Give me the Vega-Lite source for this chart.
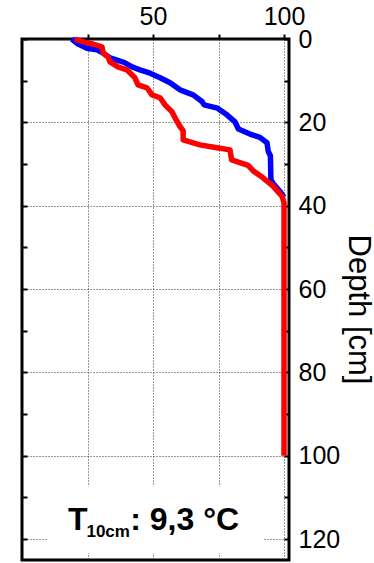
{
  "$schema": "https://vega.github.io/schema/vega-lite/v6.json",
  "width": 267,
  "height": 521,
  "autosize": {"type": "none"},
  "padding": {"left": 22, "top": 39, "right": 85, "bottom": 3},
  "background": "white",
  "config": {
    "view": {"stroke": "black", "strokeWidth": 3},
    "font": "Liberation Sans",
    "axis": {"domain": false, "labelFont": "Liberation Sans", "titleFont": "Liberation Sans", "labelColor": "black", "titleColor": "black", "tickColor": "black"}
  },
  "layer": [
    {
      "data": {"values": [
        {"series": "blue", "i": 0, "pct": 19.0, "depth": 0},
        {"series": "blue", "i": 1, "pct": 21.4, "depth": 1.2},
        {"series": "blue", "i": 2, "pct": 24.8, "depth": 2.2},
        {"series": "blue", "i": 3, "pct": 28.6, "depth": 2.6},
        {"series": "blue", "i": 4, "pct": 31, "depth": 3.4},
        {"series": "blue", "i": 5, "pct": 33.6, "depth": 4.5},
        {"series": "blue", "i": 6, "pct": 36, "depth": 5},
        {"series": "blue", "i": 7, "pct": 39.3, "depth": 5.7},
        {"series": "blue", "i": 8, "pct": 42, "depth": 6.7},
        {"series": "blue", "i": 9, "pct": 45, "depth": 7.4},
        {"series": "blue", "i": 10, "pct": 48.9, "depth": 8.2},
        {"series": "blue", "i": 11, "pct": 52.7, "depth": 9.3},
        {"series": "blue", "i": 12, "pct": 56.5, "depth": 10.5},
        {"series": "blue", "i": 13, "pct": 60.3, "depth": 12.2},
        {"series": "blue", "i": 14, "pct": 65.3, "depth": 13.4},
        {"series": "blue", "i": 15, "pct": 68.7, "depth": 15},
        {"series": "blue", "i": 16, "pct": 69.5, "depth": 15.8},
        {"series": "blue", "i": 17, "pct": 74.6, "depth": 16.6},
        {"series": "blue", "i": 18, "pct": 78.2, "depth": 18.2},
        {"series": "blue", "i": 19, "pct": 81.3, "depth": 19.9},
        {"series": "blue", "i": 20, "pct": 82.6, "depth": 21.6},
        {"series": "blue", "i": 21, "pct": 87, "depth": 22.8},
        {"series": "blue", "i": 22, "pct": 90.8, "depth": 23.6},
        {"series": "blue", "i": 23, "pct": 93.5, "depth": 24.9},
        {"series": "blue", "i": 24, "pct": 94, "depth": 27},
        {"series": "blue", "i": 25, "pct": 94.8, "depth": 28},
        {"series": "blue", "i": 26, "pct": 95, "depth": 33.8},
        {"series": "blue", "i": 27, "pct": 96, "depth": 34.8},
        {"series": "blue", "i": 28, "pct": 98.5, "depth": 36.6},
        {"series": "blue", "i": 29, "pct": 100, "depth": 38},
        {"series": "red", "i": 0, "pct": 20.2, "depth": 0},
        {"series": "red", "i": 1, "pct": 23.3, "depth": 0.7},
        {"series": "red", "i": 2, "pct": 27.1, "depth": 1.2},
        {"series": "red", "i": 3, "pct": 30.5, "depth": 1.9},
        {"series": "red", "i": 4, "pct": 31, "depth": 3.4},
        {"series": "red", "i": 5, "pct": 32.8, "depth": 4.3},
        {"series": "red", "i": 6, "pct": 33.6, "depth": 5.5},
        {"series": "red", "i": 7, "pct": 36.6, "depth": 6.7},
        {"series": "red", "i": 8, "pct": 40, "depth": 7.4},
        {"series": "red", "i": 9, "pct": 43.1, "depth": 9.3},
        {"series": "red", "i": 10, "pct": 44.3, "depth": 11},
        {"series": "red", "i": 11, "pct": 47.7, "depth": 11.7},
        {"series": "red", "i": 12, "pct": 49.6, "depth": 13.4},
        {"series": "red", "i": 13, "pct": 52.7, "depth": 14.1},
        {"series": "red", "i": 14, "pct": 54.6, "depth": 15.8},
        {"series": "red", "i": 15, "pct": 57.3, "depth": 17.5},
        {"series": "red", "i": 16, "pct": 58.4, "depth": 18.9},
        {"series": "red", "i": 17, "pct": 60.3, "depth": 21},
        {"series": "red", "i": 18, "pct": 61.5, "depth": 22},
        {"series": "red", "i": 19, "pct": 61.5, "depth": 24.2},
        {"series": "red", "i": 20, "pct": 67.9, "depth": 25.4},
        {"series": "red", "i": 21, "pct": 74.4, "depth": 26.1},
        {"series": "red", "i": 22, "pct": 79.4, "depth": 26.6},
        {"series": "red", "i": 23, "pct": 80, "depth": 29},
        {"series": "red", "i": 24, "pct": 86.3, "depth": 30.3},
        {"series": "red", "i": 25, "pct": 88.2, "depth": 31.6},
        {"series": "red", "i": 26, "pct": 92, "depth": 33.3},
        {"series": "red", "i": 27, "pct": 95.8, "depth": 35.3},
        {"series": "red", "i": 28, "pct": 99.3, "depth": 37.8},
        {"series": "red", "i": 29, "pct": 100, "depth": 39.3},
        {"series": "red", "i": 30, "pct": 100, "depth": 100}
      ]},
      "mark": {"type": "line", "strokeWidth": 5.5, "strokeJoin": "round", "strokeCap": "butt"},
      "encoding": {
        "x": {"field": "pct", "type": "quantitative", "scale": {"domain": [0, 101.9], "nice": false, "zero": false},
          "axis": {"orient": "top", "title": null, "values": [25, 50, 75, 100],
            "labelExpr": "datum.value % 50 == 0 ? datum.label : ''",
            "labelFontSize": 25, "labelPadding": 5, "tickSize": 5, "tickWidth": 2,
            "grid": true, "gridDash": [1, 2], "gridColor": "#333", "gridWidth": 1}},
        "y": {"field": "depth", "type": "quantitative", "scale": {"domain": [0, 125], "nice": false, "reverse": true},
          "axis": {"orient": "right", "title": "Depth [cm]", "values": [0, 10, 20, 30, 40, 50, 60, 70, 80, 90, 100, 110, 120],
            "labelExpr": "datum.value % 20 == 0 ? datum.label : ''",
            "labelFontSize": 25, "labelPadding": 14, "tickSize": -5, "tickWidth": 2,
            "titleFontSize": 31, "titleFontWeight": "normal", "titlePadding": 2, "titleY": 270,
            "grid": true, "gridDash": [1, 2], "gridColor": "#333", "gridWidth": 1,
            "gridOpacity": {"condition": {"test": "datum.value % 20 == 0", "value": 1}, "value": 0}}},
        "color": {"field": "series", "type": "nominal", "scale": {"domain": ["blue", "red"], "range": ["#0000ff", "#ff0000"]}, "legend": null},
        "order": {"field": "i", "type": "quantitative"}
      }
    },
    {
      "data": {"values": [{"x1": 9.5, "x2": 92, "d1": 107.3, "d2": 123.4}]},
      "mark": {"type": "rect", "color": "white"},
      "encoding": {
        "x": {"field": "x1", "type": "quantitative"},
        "x2": {"field": "x2"},
        "y": {"field": "d1", "type": "quantitative",
          "axis": {"orient": "left", "title": null, "values": [0, 10, 20, 30, 40, 50, 60, 70, 80, 90, 100, 110, 120], "labels": false, "grid": false, "tickSize": -5, "tickWidth": 2}},
        "y2": {"field": "d2"}
      }
    },
    {
      "data": {"values": [{"label": "T", "x": 17.6, "d": 117.8}]},
      "mark": {"type": "text", "align": "left", "baseline": "alphabetic", "fontSize": 32, "fontWeight": "bold", "color": "black"},
      "encoding": {"x": {"field": "x", "type": "quantitative"}, "y": {"field": "d", "type": "quantitative", "axis": null}, "text": {"field": "label"}}
    },
    {
      "data": {"values": [{"label": "10cm", "x": 24.6, "d": 119.5}]},
      "mark": {"type": "text", "align": "left", "baseline": "alphabetic", "fontSize": 17, "fontWeight": "bold", "color": "black"},
      "encoding": {"x": {"field": "x", "type": "quantitative"}, "y": {"field": "d", "type": "quantitative", "axis": null}, "text": {"field": "label"}}
    },
    {
      "data": {"values": [{"label": ": 9,3 °C", "x": 41.3, "d": 117.8}]},
      "mark": {"type": "text", "align": "left", "baseline": "alphabetic", "fontSize": 32, "fontWeight": "bold", "color": "black"},
      "encoding": {"x": {"field": "x", "type": "quantitative"}, "y": {"field": "d", "type": "quantitative", "axis": null}, "text": {"field": "label"}}
    }
  ],
  "resolve": {"axis": {"y": "independent", "x": "shared"}}
}
